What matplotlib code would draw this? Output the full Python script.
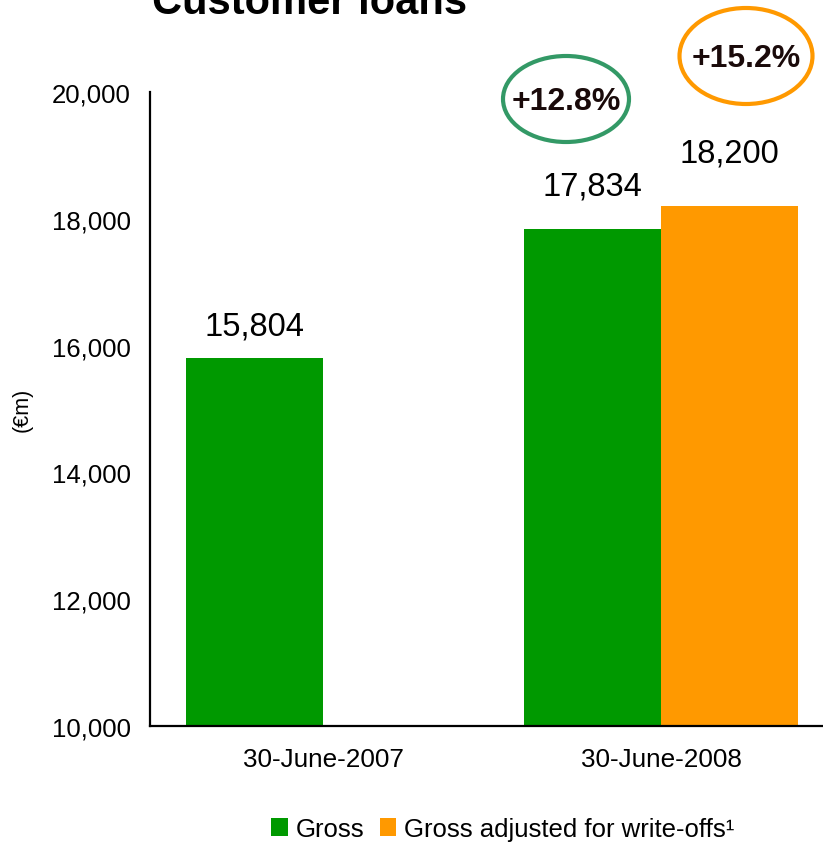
import matplotlib
matplotlib.use("Agg")
import numpy as np
import matplotlib.pyplot as plt
from matplotlib.patches import Ellipse

plt.rcParams['font.family'] = ['Liberation Sans', 'DejaVu Sans']

# customer loans, EUR m
dates = ['30-June-2007', '30-June-2008']
gross = [15804, 17834]
adjusted = [None, 18200]
growth = ['+12.8%', '+15.2%']
series_names = ['Gross', 'Gross adjusted for write-offs\u00b9']

green = '#009900'
orange = '#FF9900'

fig = plt.figure(figsize=(8.23, 8.45), dpi=100)
ax = fig.add_axes([150 / 823, 1 - 727 / 845, 1 - 150 / 823, (727 - 93) / 845])

x = np.arange(len(dates))
w = 0.405
b1 = ax.bar(x - w / 2, gross, w, bottom=0, color=green, label=series_names[0])
adj_x = [xi + w / 2 for xi, v in zip(x, adjusted) if v is not None]
adj_v = [v for v in adjusted if v is not None]
b2 = ax.bar(adj_x, adj_v, w, color=orange, label=series_names[1])

ax.set_ylim(10000, 20000)
ax.set_xlim(-0.512, 1.479)
ax.set_yticks(np.arange(10000, 20001, 2000))
ax.yaxis.set_major_formatter(matplotlib.ticker.FuncFormatter(lambda v, p: f'{v:,.0f}'))
ax.set_xticks(x)
ax.set_xticklabels(dates)
ax.tick_params(axis='y', length=0, labelsize=18.5, pad=14)
ax.tick_params(axis='x', length=0, labelsize=18.8, pad=15)
for s in ['top', 'right']:
    ax.spines[s].set_visible(False)
ax.spines['left'].set_linewidth(1.6)
ax.spines['bottom'].set_linewidth(1.6)

# value labels above each bar
offsets = [12, 20, 27]
bars = list(b1) + list(b2)
for bar, off in zip(bars, offsets):
    h = bar.get_height()
    ax.annotate(f'{h:,.0f}', (bar.get_x() + bar.get_width() / 2, h),
                xytext=(0, off), textcoords='offset points',
                ha='center', va='bottom', fontsize=23.5)

fig.text(22 / 823, 1 - 410 / 845, '(\u20acm)', rotation=90,
         ha='center', va='center', fontsize=15.5)

# growth bubbles
bubbles = [((566, 100), 126, 86, '#339966'), ((746, 57), 133, 96, orange)]
for (cx, cy), bw, bh, col in bubbles:
    e = Ellipse((cx / 823, 1 - cy / 845), bw / 823, bh / 845,
                transform=fig.transFigure, fill=False, edgecolor=col, lw=3)
    fig.add_artist(e)
for ((cx, cy), bw, bh, col), txt in zip(bubbles, growth):
    fig.text(cx / 823, 1 - (cy + 2) / 845, txt, ha='center', va='center',
             fontsize=23, fontweight='bold', color='#1a0a0a')

fig.text(310 / 823, 1 - 14 / 845, 'Customer loans', ha='center', va='baseline',
         fontsize=30, fontweight='bold')

fig.legend(handles=[b1, b2], loc='center', bbox_to_anchor=(0.611, 1 - 830 / 845),
           ncol=2, frameon=False, fontsize=18.5, handlelength=0.65,
           handleheight=0.65, handletextpad=0.3, columnspacing=0.6)

fig.savefig('out.png', dpi=100)
